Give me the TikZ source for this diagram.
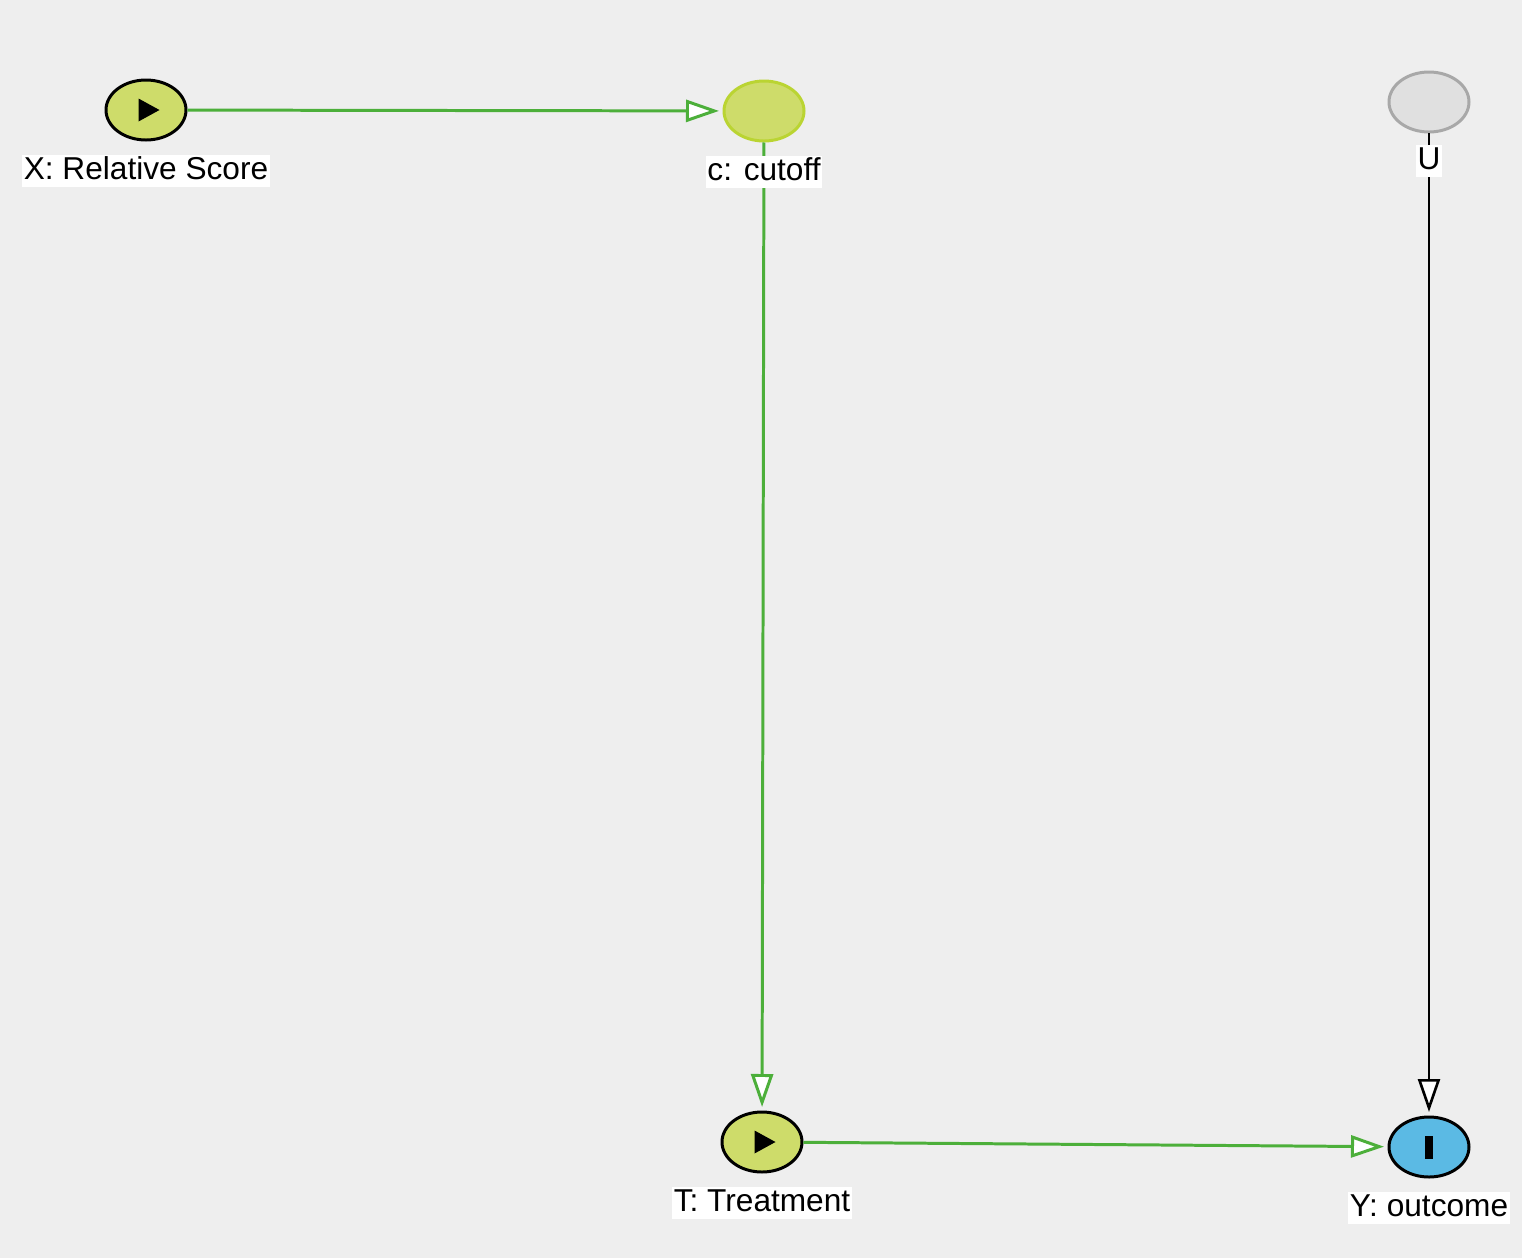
\documentclass[tikz,border=0pt]{standalone}
\usepackage{fontspec}
\setmainfont{Liberation Sans}
\usepackage{tikz}
\usetikzlibrary{shapes.geometric}
\usetikzlibrary{positioning}
\usetikzlibrary{arrows.meta}
\definecolor{bggray}{HTML}{EEEEEE}
\definecolor{nodegreen}{HTML}{CEDC6A}
\definecolor{cborder}{HTML}{BAD432}
\definecolor{nodeblue}{HTML}{5BBAE4}
\definecolor{ufill}{HTML}{E0E0E0}
\definecolor{uborder}{HTML}{A8A8A8}
\definecolor{edgegreen}{HTML}{4CAF3A}

\begin{document}
\begin{tikzpicture}[
            var/.style = {ellipse, draw = black, line width = 1.7pt,
                minimum width = 1.6cm, minimum height = 1.2cm, inner sep = 0pt},
            lab/.style = {fill = white, inner xsep = 0.8pt, inner ysep = 0pt,
                text height = 14pt, text depth = 4.5pt,
                font = \fontsize{18}{20}\selectfont},
            causal/.style = {draw = edgegreen, line width = 1.7pt,
                -{Triangle[open, fill = white, length = 0.66cm, width = 0.44cm]},
                shorten > = 2pt},
            latent/.style = {causal, draw = black, line width = 1.5pt}
            ]

        \useasboundingbox[fill = bggray] (0,0) rectangle (30.44,-25.16);

	% variables
	\node[var, fill = nodegreen] (X) at (2.92,-2.20) {};
	\node[var, fill = nodegreen, draw = cborder] (c) at (15.28,-2.22) {};
	\node[var, fill = ufill, draw = uborder] (U) at (28.58,-2.04) {};
	\node[var, fill = nodegreen] (T) at (15.24,-22.84) {};
	\node[var, fill = nodeblue] (Y) at (28.58,-22.94) {};

	% edges
	\path[causal] (X) -- (c);
	\path[causal] (c) -- (T);
	\path[causal] (T) -- (Y);
	\path[latent] (U) -- (Y);

	% icons
	\fill ([shift={(-0.15,0.23)}]X.center) -- ([shift={(-0.15,-0.23)}]X.center)
	    -- ([shift={(0.27,0)}]X.center) -- cycle;
	\fill ([shift={(-0.15,0.23)}]T.center) -- ([shift={(-0.15,-0.23)}]T.center)
	    -- ([shift={(0.27,0)}]T.center) -- cycle;
	\fill ([shift={(-0.08,-0.23)}]Y.center) rectangle ([shift={(0.08,0.23)}]Y.center);

	% labels
	\node[lab] (Xlab) [below = 0.26cm of X] {X: Relative Score};
	\node[lab] (clab) [below = 0.26cm of c] {c: cutoff};
	\node[lab] (Ulab) [below = 0.22cm of U] {U};
	\node[lab] (Tlab) [below = 0.26cm of T] {T: Treatment};
	\node[lab] (Ylab) [below = 0.26cm of Y] {Y: outcome};

  \end{tikzpicture}
\end{document}
